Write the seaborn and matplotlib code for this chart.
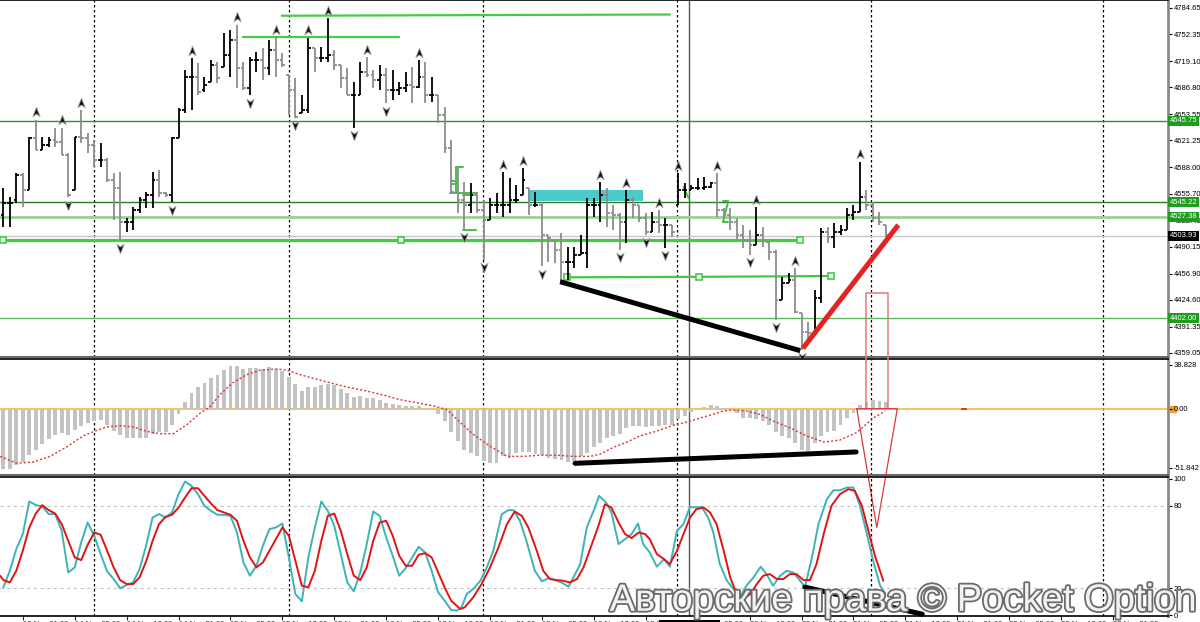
import numpy as np
import pandas as pd
import matplotlib
matplotlib.use("Agg")
import matplotlib.pyplot as plt
import seaborn as sns
from matplotlib.path import Path
from matplotlib import patheffects as pe
from matplotlib.transforms import blended_transform_factory

sns.set_theme(style="white")
plt.rcParams["font.family"] = ["Liberation Sans", "DejaVu Sans"]

# ---------------- price bars (OHLC) ----------------
bar_open = [4529, 4544, 4548, 4579, 4560, 4624, 4609, 4616, 4622, 4619,
            4603, 4560, 4625, 4624, 4616, 4597, 4597, 4572, 4563, 4521,
            4521, 4535, 4548, 4554, 4572, 4556, 4554, 4624, 4659, 4699,
            4699, 4683, 4693, 4714, 4712, 4727, 4745, 4711, 4686, 4720,
            4720, 4711, 4733, 4720, 4702, 4684, 4655, 4659, 4735, 4723,
            4723, 4727, 4714, 4698, 4677, 4677, 4706, 4702, 4696, 4702,
            4684, 4684, 4686, 4690, 4687, 4699, 4677, 4677, 4653, 4612,
            4558, 4548, 4542, 4554, 4535, 4523, 4542, 4542, 4542, 4548,
            4554, 4563, 4542, 4542, 4505, 4498, 4486, 4471, 4471, 4480,
            4482, 4542, 4542, 4554, 4532, 4529, 4521, 4548, 4542, 4526,
            4508, 4521, 4517, 4517, 4542, 4560, 4560, 4563, 4563, 4564,
            4569, 4535, 4529, 4521, 4505, 4498, 4492, 4505, 4496, 4484,
            4424, 4445, 4449, 4408, 4385, 4384, 4427, 4508, 4502, 4508,
            4511, 4529, 4533, 4551, 4542, 4526, 4517]
bar_high = [4563, 4551, 4581, 4581, 4625, 4647, 4625, 4625, 4637, 4637,
            4606, 4625, 4659, 4630, 4622, 4618, 4600, 4581, 4582, 4526,
            4539, 4551, 4558, 4582, 4585, 4558, 4625, 4661, 4708, 4723,
            4717, 4699, 4720, 4718, 4754, 4758, 4764, 4718, 4724, 4730,
            4735, 4745, 4749, 4729, 4702, 4698, 4677, 4748, 4735, 4737,
            4772, 4733, 4714, 4711, 4693, 4718, 4724, 4708, 4714, 4711,
            4708, 4693, 4706, 4712, 4720, 4718, 4699, 4677, 4662, 4622,
            4587, 4570, 4569, 4558, 4548, 4550, 4556, 4582, 4575, 4566,
            4587, 4563, 4558, 4545, 4505, 4498, 4507, 4490, 4490, 4505,
            4550, 4550, 4570, 4563, 4542, 4532, 4560, 4551, 4542, 4532,
            4533, 4535, 4526, 4517, 4581, 4569, 4566, 4575, 4576, 4570,
            4581, 4538, 4538, 4526, 4517, 4511, 4539, 4514, 4496, 4486,
            4453, 4458, 4464, 4408, 4397, 4437, 4513, 4514, 4519, 4517,
            4538, 4542, 4595, 4560, 4545, 4533, 4517]
bar_low = [4514, 4514, 4544, 4539, 4560, 4609, 4609, 4613, 4613, 4603,
           4551, 4560, 4618, 4606, 4588, 4588, 4570, 4523, 4498, 4508,
           4511, 4532, 4538, 4538, 4551, 4551, 4545, 4624, 4655, 4659,
           4677, 4681, 4693, 4692, 4712, 4699, 4686, 4684, 4677, 4706,
           4696, 4702, 4699, 4712, 4653, 4649, 4655, 4655, 4706, 4718,
           4718, 4708, 4686, 4677, 4637, 4677, 4699, 4686, 4684, 4667,
           4671, 4677, 4681, 4667, 4686, 4667, 4669, 4643, 4606, 4556,
           4532, 4511, 4532, 4532, 4474, 4523, 4532, 4527, 4532, 4544,
           4554, 4529, 4539, 4466, 4471, 4470, 4445, 4449, 4464, 4480,
           4464, 4527, 4521, 4514, 4511, 4486, 4495, 4526, 4521, 4505,
           4508, 4507, 4489, 4502, 4542, 4550, 4560, 4560, 4560, 4563,
           4527, 4526, 4511, 4498, 4489, 4480, 4492, 4490, 4474, 4400,
           4424, 4445, 4408, 4363, 4375, 4384, 4421, 4495, 4489, 4505,
           4511, 4523, 4533, 4535, 4521, 4517, 4502]
bar_close = [4544, 4544, 4579, 4560, 4624, 4609, 4616, 4622, 4619, 4603,
             4554, 4625, 4624, 4616, 4597, 4597, 4572, 4563, 4521, 4521,
             4535, 4548, 4554, 4572, 4556, 4554, 4624, 4659, 4699, 4699,
             4681, 4690, 4714, 4698, 4727, 4745, 4711, 4686, 4720, 4720,
             4711, 4733, 4720, 4714, 4684, 4650, 4659, 4735, 4723, 4723,
             4727, 4714, 4698, 4677, 4677, 4706, 4702, 4696, 4702, 4684,
             4684, 4686, 4690, 4687, 4699, 4677, 4677, 4653, 4612, 4558,
             4548, 4542, 4554, 4535, 4523, 4542, 4542, 4542, 4548, 4548,
             4572, 4542, 4542, 4505, 4501, 4486, 4471, 4471, 4480, 4482,
             4542, 4542, 4554, 4532, 4529, 4521, 4548, 4542, 4526, 4508,
             4521, 4517, 4517, 4508, 4560, 4560, 4563, 4563, 4564, 4569,
             4535, 4529, 4521, 4505, 4498, 4492, 4505, 4498, 4484, 4424,
             4445, 4449, 4410, 4385, 4384, 4427, 4508, 4502, 4508, 4511,
             4529, 4533, 4551, 4542, 4526, 4521, 4504]

fractal_up_idx = [5, 9, 12, 29, 36, 42, 47, 50, 56, 64, 77, 80, 92, 96, 101, 104, 110, 116, 122, 132]
fractal_down_idx = [10, 18, 26, 38, 45, 54, 59, 71, 74, 83, 95, 99, 102, 115, 119, 123]

# horizontal price levels with right-side labels
level_prices = [4645.75, 4545.22, 4527.38, 4503.93, 4402.00]
level_colors = ["#2f8f2f", "#2a7a2a", "#9ad09a", "#c8c8c8", "#5cb85c"]
level_widths = [1.0, 1.0, 2.0, 1.0, 1.0]
level_label_bg = ["#1f9b1f", "#1f9b1f", "#1f9b1f", "#000000", "#1f9b1f"]

price_ticks = [4784.65, 4752.35, 4719.10, 4686.80, 4653.55, 4621.25, 4588.00,
               4555.70, 4522.45, 4490.15, 4456.90, 4424.60, 4391.35, 4359.05]

# drawn objects (bar index, price)
green_level_1 = ([0.0, 61.3, 122.8], [4498.4, 4498.4, 4498.4])
green_level_2 = ([86.8, 107.2, 127.6], [4452.4, 4453.0, 4454.0])
green_top_1 = ([42.9, 102.7], [4775.1, 4776.6])
green_top_2 = ([36.9, 60.9], [4749.2, 4749.2])
green_stubs = [((69.8, 70.8), (4588, 4588)), ((69.8, 69.8), (4588, 4557)),
               ((69.0, 70.0), (4571, 4571)), ((69.0, 70.0), (4568, 4568)),
               ((68.8, 72.9), (4557, 4557)), ((70.8, 72.3), (4554, 4554)),
               ((70.9, 72.9), (4511, 4511)), ((104.8, 105.6), (4564, 4550)),
               ((110.9, 111.7), (4546, 4546)), ((111.7, 110.9), (4546, 4521)),
               ((110.9, 111.7), (4521, 4521))]
cyan_zone = (80.9, 98.6, 4546.5, 4560.1)
black_trend = ([85.8, 122.8], [4447.0, 4361.9])
red_trend = ([123.2, 137.9], [4364.8, 4517.0])

# ---------------- MACD ----------------
macd_hist = [-53.5, -53.5, -50, -47, -41, -36, -31, -26.5, -23, -21,
             -23, -19, -15, -13, -11, -10, -14, -20, -23.5, -25.5,
             -26, -26, -26, -22, -20.5, -20.5, -14, -5, 6, 14,
             19, 23, 27, 30, 34, 38, 38, 35, 36, 36,
             35, 37, 35, 33, 28, 22, 16, 19, 19.5, 21,
             22, 20.5, 17.5, 14, 10, 11, 9.5, 9, 8, 5,
             4, 3, 2, 2, 2, 0.3, -1, -5, -11, -20.5,
             -28.5, -36, -39, -42, -46, -48, -47.6, -42, -43, -39,
             -38, -38, -40, -41, -43, -44.7, -45, -47, -46, -42,
             -39, -33.5, -30.5, -26, -24, -22, -17, -15, -15, -16,
             -15, -15, -14, -14, -9.4, -6.5, -3, -0.6, 1.8, 3.5,
             2.4, 1, -0.6, -4, -8, -8, -9.4, -11, -14, -20.5,
             -24, -25.6, -30, -36, -37, -30, -24, -20.6, -19.7, -14,
             -8, -3.5, 3, 6, 7.4, 6.8, 6]
signal_x = [-0.5, 2.1, 4.6, 7.2, 9.8, 12.3, 14, 15.9, 18, 20, 22.1, 24.1, 26.2, 28.3,
            30.3, 31.9, 33.4, 35.4, 37.5, 39.6, 42.1, 43.7, 45.7, 48.3, 50.9, 53.4,
            56, 58.6, 61.1, 63.7, 66.3, 68.3, 69.9, 72.4, 75, 77.6, 80.1, 82.7, 85.3,
            87.8, 90.4, 92, 94, 96.1, 98.1, 100.7, 103.2, 105.8, 108.4, 111, 112.5,
            114.5, 116.6, 118.7, 121.2, 123.8, 126.4, 128.9, 131.5, 134.1, 135.9]
signal_v = [-42, -48, -47, -42, -33.5, -24, -20, -16, -15, -16, -20, -22, -22, -14,
            -4, 2, 12.6, 23, 30, 34, 35, 34, 30, 26, 22, 18.5,
            15.6, 12, 8, 5.3, 2.4, -0.6, -9.4, -22.6, -33, -42, -42, -41, -41,
            -42, -42, -40, -34, -29.4, -24, -19.7, -14.7, -11, -6.5, -2, -1.2,
            -2, -5, -11, -16.8, -24, -29.4, -27.6, -21, -8, -2]
macd_ticks = [38.828, 0.0, -51.842]
macd_tick_labels = ["38.828", "0.00", "-51.842"]
macd_black_line = ([88.1, 131.4], [-48.1, -38.1])

# ---------------- Stochastic ----------------
stoch_k_x = list(range(70)) + [69.9, 70.6, 71.4, 72.4, 73.5, 74.5, 75.5, 76.8, 77.8, 78.6,
                               79.6, 80.6, 81.9, 83, 84, 85, 86, 87.1, 88.1, 88.9,
                               89.9, 91, 91.8, 92.9, 93.7, 94.8, 95.8, 96.8, 97.8, 98.6,
                               99.6, 100.7, 101.8, 102.7, 103.8, 104.8, 105.8, 106.8, 107.6, 108.6,
                               109.4, 110.4, 111.5, 112.5, 113.5, 114.5, 115.6, 116.7, 117.6, 118.6,
                               119.7, 120.7, 121.7, 122.8, 123.5, 124.6, 125.6, 126.9, 127.9, 128.9,
                               130, 131, 132, 133, 134.1, 135.1, 135.9]
stoch_k = [20.5, 32.6, 48.4, 59.4, 83.2, 80.7, 79.5, 74, 74, 61.8,
           31.4, 35, 53.3, 67.9, 58.2, 44.8, 32.2, 26.6, 19.8, 22.2,
           24.1, 33.9, 50.9, 71.5, 74, 71.5, 75.2, 88.5, 97.8, 94.6,
           88.5, 80, 76.4, 73.5, 73.5, 72.7, 60.6, 38.7, 29, 36.3,
           50.9, 63, 64.2, 67.1, 42.4, 15.6, 10.3, 42.4, 64.2, 83.2,
           76.4, 65.4, 44.8, 24.1, 17.6, 31.4, 52.1, 75.9, 72.7, 56.9,
           43.6, 29, 34.6, 42.4, 50.1, 46, 32.6, 16.9, 10.8, 4,
           3.5, 5.9, 15.6, 19.3, 25.3, 35.1, 47.2, 73.9, 76.9, 76.9,
           69.1, 54.5, 32.6, 24.9, 27.3, 25.8, 24.1, 21, 30.2, 37.5,
           64.2, 76.9, 87.3, 82.4, 75.2, 52.1, 55.7, 59.4, 67.1, 52.1,
           46, 35.6, 41.1, 35.6, 61.8, 66.7, 79.3, 78.8, 79.3, 71.5,
           60.6, 37.5, 25.3, 19.3, 13.2, 21.7, 27.8, 35.6, 30.2, 21.7,
           29, 32.6, 31.4, 25.3, 20.5, 42.4, 66.7, 84.9, 91.4, 91.4,
           93.4, 93.4, 80, 60.6, 38.7, 21.7, 16]
stoch_d_x = [-0.5] + list(range(70)) + [70.4, 71.1, 72.4, 73.7, 75, 76.3, 77.6, 78.8, 79.9, 80.9,
                                        82.2, 83.2, 84.2, 85.3, 86.3, 87.3, 88.4, 89.4, 90.7, 91.7,
                                        92.7, 93.7, 94.8, 95.8, 96.8, 97.9, 98.9, 99.6, 100.7, 101.8,
                                        102.7, 103.8, 104.8, 105.8, 106.8, 107.9, 108.9, 109.9, 111, 112,
                                        113, 114, 115.1, 116.1, 117.1, 118.1, 119.2, 120.2, 121.2, 122.2,
                                        123.3, 124.3, 125.3, 126.4, 127.6, 128.9, 130.2, 131.2, 132.3, 133.3,
                                        134.3, 135.6]
stoch_d = [29, 25.8, 24.1, 32.6, 47.2, 64.2, 74.4, 80.5, 76.9, 74.4, 66.7,
           54.5, 42.4, 40.4, 51.6, 60.6, 58.9, 47.2, 35.1, 25.8, 22.9,
           22.9, 27.8, 39.4, 54.5, 66.7, 72, 73.5, 78.8, 86.1, 92.9,
           92.9, 87.3, 81.7, 76.9, 75.2, 73.5, 69.1, 54.5, 42.4, 35.1,
           38.7, 47.2, 55.7, 64.2, 58.2, 39.9, 21.7, 20.5, 32.6, 54.5,
           72.7, 74.4, 61.8, 44.8, 29, 25.8, 35.1, 54.5, 67.9, 69.1,
           58.2, 43.6, 36.3, 36.3, 44.3, 45.5, 42.4, 31.4, 20.5, 10.8,
           4.7, 5.9, 13.2, 22.9, 35.1, 49.7, 66.7, 75.9, 72.7, 64.2,
           47.2, 32.6, 26.6, 25.8, 25.3, 24.1, 26.6, 35.1, 52.1, 65.4,
           81.2, 78.8, 67.9, 59.4, 56.5, 60.6, 59.4, 55.7, 44.8, 41.1,
           37.5, 47.2, 59.4, 71.5, 77.6, 78.8, 75.2, 66.7, 47.2, 27.8,
           15.6, 12, 15.6, 22.9, 29, 30.2, 26.6, 26.6, 30.2, 30.2,
           25.8, 25.8, 37.5, 59.4, 80, 88.5, 92.2, 91, 80, 61.8,
           43.6, 25.3]
stoch_ticks = [100, 80, 20, 0]
stoch_black_line = ([123.5, 141.6], [20.7, 0.9])

# time axis
time_tick_idx = [3 + 8 * k for k in range(22)]
time_labels = ["13 Nov 21:00", "14 Nov 05:00", "14 Nov 13:00", "14 Nov 21:00", "15 Nov 05:00",
               "15 Nov 13:00", "15 Nov 21:00", "18 Nov 05:00", "18 Nov 13:00", "18 Nov 21:00",
               "19 Nov 05:00", "19 Nov 13:00", "19 Nov 21:00", "20 Nov 05:00", "20 Nov 13:00",
               "20 Nov 21:00", "21 Nov 05:00", "21 Nov 13:00", "21 Nov 21:00", "22 Nov 05:00",
               "22 Nov 13:00", "22 Nov 21:00"]
grid_idx = [14.0, 44.0, 73.9, 103.8, 133.7, 169.4]
cursor_idx = 105.7
cursor_label = "2024.11.20 13:00"

# ---------------- figure ----------------
fig = plt.figure(figsize=(12, 6.22), dpi=100, facecolor="white")
W, H = 1200.0, 622.0
axR = 1168.0 / W
ax1 = fig.add_axes([0, 1 - 357 / H, axR, 357 / H])
ax2 = fig.add_axes([0, 1 - 475 / H, axR, 116 / H])
ax3 = fig.add_axes([0, 1 - 615.7 / H, axR, 138.7 / H])
LBL = 5.5
for ax in (ax1, ax2, ax3):
    ax.set_facecolor("none")
    ax.set_xlim(-0.51, 179.46)
    ax.yaxis.tick_right()
    ax.tick_params(axis="y", which="both", direction="out", length=3, width=0.8,
                   pad=1.2, labelsize=LBL, colors="black", right=True, left=False)
    ax.spines["left"].set_visible(False)
    ax.spines["right"].set_color("#8a8a8a")
    ax.spines["right"].set_linewidth(2)
    ax.spines["top"].set_color("black")
    ax.spines["bottom"].set_color("#6a6a6a")
    ax.spines["top"].set_linewidth(1.2)
    ax.spines["bottom"].set_linewidth(1.5)
    for gx in grid_idx:
        ax.axvline(gx, color="black", lw=0.9, ls=(0, (2, 2)), zorder=0.6)
    ax.axvline(cursor_idx, color="#555555", lw=1.0, zorder=0.7)

ax1.set_ylim(4354.1, 4794.5)
ax2.set_ylim(-58.4, 43.8)
ax3.set_ylim(-0.2, 101.1)
ax1.set_xticks([])
ax2.set_xticks([])
ax3.spines["bottom"].set_color("black")
ax3.spines["bottom"].set_linewidth(1.2)

# price panel
ax1.set_yticks(price_ticks)
ax1.set_yticklabels([f"{v:.2f}" for v in price_ticks])
for p, c, w in zip(level_prices, level_colors, level_widths):
    ax1.axhline(p, color=c, lw=w, zorder=1)
trans1 = blended_transform_factory(ax1.transAxes, ax1.transData)
for p, bg in zip(level_prices, level_label_bg):
    ax1.text(1.0015, p, f"{p:.2f}", transform=trans1, fontsize=LBL, color="white",
             va="center", ha="left", clip_on=False, zorder=5,
             bbox=dict(boxstyle="square,pad=0.2", fc=bg, ec="none"))

ax1.add_patch(plt.Rectangle((cyan_zone[0], cyan_zone[2]), cyan_zone[1] - cyan_zone[0],
                            cyan_zone[3] - cyan_zone[2], color="#4cc9c9", lw=0, zorder=1.5))
ax1.plot(green_level_1[0], green_level_1[1], color="#3fcf3f", lw=2.3, marker="s", ms=4,
         mfc="white", mec="#3fcf3f", mew=1.2, zorder=2)
ax1.plot(green_level_2[0], green_level_2[1], color="#44c844", lw=1.6, marker="s", ms=4,
         mfc="white", mec="#44c844", mew=1.2, zorder=2)
ax1.plot(green_top_1[0], green_top_1[1], color="#44cc44", lw=1.6, zorder=2)
ax1.plot(green_top_2[0], green_top_2[1], color="#44cc44", lw=1.6, zorder=2)
for xs, ys in green_stubs:
    ax1.plot(xs, ys, color="#44c044", lw=1.4, zorder=2)

idx = np.arange(len(bar_close))
up = np.array(bar_close) >= np.array(bar_open)
cols = np.where(up, "#000000", "#8c8c8c")
ax1.vlines(idx, bar_low, bar_high, colors=cols, lw=1.3, zorder=3)
ax1.hlines(bar_open, idx - 0.42, idx, colors=cols, lw=1.3, zorder=3)
ax1.hlines(bar_close, idx, idx + 0.42, colors=cols, lw=1.3, zorder=3)

arrow_up = Path([(0, 1), (-0.7, -0.8), (0, -0.3), (0.7, -0.8), (0, 1)],
                [Path.MOVETO, Path.LINETO, Path.LINETO, Path.LINETO, Path.CLOSEPOLY])
arrow_dn = Path([(0, -1), (-0.7, 0.8), (0, 0.3), (0.7, 0.8), (0, -1)],
                [Path.MOVETO, Path.LINETO, Path.LINETO, Path.LINETO, Path.CLOSEPOLY])
hi = np.array(bar_high, dtype=float)
lo = np.array(bar_low, dtype=float)
ax1.scatter(fractal_up_idx, hi[fractal_up_idx] + 9, marker=arrow_up, s=55, c="#111111",
            edgecolors="#9a9a9a", linewidths=0.6, zorder=4)
ax1.scatter(fractal_down_idx, lo[fractal_down_idx] - 9, marker=arrow_dn, s=55, c="#111111",
            edgecolors="#9a9a9a", linewidths=0.6, zorder=4)

ax1.plot(black_trend[0], black_trend[1], color="black", lw=3.6, solid_capstyle="butt", zorder=5)
ax1.plot(red_trend[0], red_trend[1], color="#e32222", lw=3.6, solid_capstyle="butt", zorder=5)

# MACD panel
ax2.axhline(0, color="#f0b43c", lw=1.1, zorder=1)
sns.barplot(x=idx, y=macd_hist, native_scale=True, width=0.6, color="#c3c3c3",
            saturation=1, errorbar=None, linewidth=0, ax=ax2, zorder=2)
sns.lineplot(x=signal_x, y=signal_v, sort=False, color="#d23c3c", lw=1.0,
             ls=(0, (1.5, 1.5)), ax=ax2, zorder=3)
ax2.plot(macd_black_line[0], macd_black_line[1], color="black", lw=3.6, zorder=4)
ax2.set_xlim(-0.51, 179.46)
ax2.set_ylim(-58.4, 43.8)
ax2.set_xticks([])
ax2.set_xlabel("")
ax2.set_ylabel("")
ax2.set_yticks(macd_ticks)
ax2.set_yticklabels(macd_tick_labels)
trans2 = blended_transform_factory(ax2.transAxes, ax2.transData)
ax2.plot([1.0045], [0], marker="s", ms=5, color="#f0a030", transform=trans2,
         clip_on=False, zorder=0.2)
# red rectangle + triangle drawing spanning panels
ax2.plot([133.0, 133.0, 136.3, 136.3], [0, 102.2, 102.2, 0], color="#e07a7a",
         lw=1.1, clip_on=False, zorder=6)
ax2.plot([131.5, 137.75, 134.6, 131.5], [0, 0, -104.7, 0], color="#d83a3a",
         lw=0.9, clip_on=False, zorder=6)
ax2.plot([147.7, 148.3], [0, 0], color="#e03030", lw=1.5, zorder=3)

# Stochastic panel
for lvl in (80, 20):
    ax3.axhline(lvl, color="#c4c4c4", lw=0.8, ls=(0, (3, 3)), zorder=0.8)
sns.lineplot(x=stoch_k_x, y=stoch_k, sort=False, color="#3fb3b3", lw=1.4, ax=ax3, zorder=3)
sns.lineplot(x=stoch_d_x, y=stoch_d, sort=False, color="#e01414", lw=1.4, ax=ax3, zorder=3)
ax3.plot(stoch_black_line[0], stoch_black_line[1], color="black", lw=3.6,
         clip_on=False, zorder=4)
ax3.set_xlim(-0.51, 179.46)
ax3.set_ylim(-0.2, 101.1)
ax3.set_xlabel("")
ax3.set_ylabel("")
ax3.set_yticks(stoch_ticks)
ax3.set_yticklabels([str(v) for v in stoch_ticks])
ax3.set_xticks(time_tick_idx)
ax3.set_xticklabels(time_labels, ha="left", fontsize=LBL)
ax3.tick_params(axis="x", direction="out", length=3, width=0.8, pad=1.0, bottom=True)
ax3.text(cursor_idx, -4.5, cursor_label, fontsize=LBL, color="white", ha="center", va="top",
         clip_on=False, zorder=6, bbox=dict(boxstyle="square,pad=0.2", fc="black", ec="none"))

# watermark
fig.text(0.508, 0.018, "Авторские права © Pocket Option", fontsize=27.5,
         color="#f2f2f2", family=["Liberation Sans", "DejaVu Sans"], zorder=20,
         path_effects=[pe.withStroke(linewidth=2.6, foreground="#6a6a6a")])

fig.savefig("out.png", dpi=100, facecolor="white")
